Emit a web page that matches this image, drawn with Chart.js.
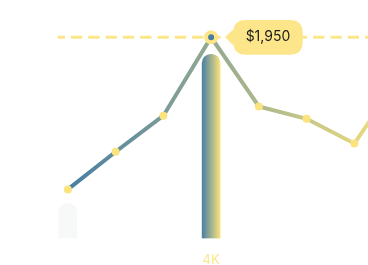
<!DOCTYPE html>
<html>
<head>
<meta charset="utf-8">
<script src="https://cdn.jsdelivr.net/npm/chart.js@4"></script>
<style>
  html, body { margin: 0; padding: 0; background: #fff; overflow: hidden; width: 368px; height: 265px; }
  #salesChart { position: absolute; left: 0; top: 0; }
</style>
</head>
<body>
<canvas id="salesChart" width="430" height="282"></canvas>
<script>
// data
var categories = ['1K', '2K', '3K', '4K', '5K', '6K', '7K', '8K'];
var salesValues = [475, 840, 1190, 1950, 1280, 1160, 920, 1600];
var barValues = [340, null, null, 1785, null, null, null, null];
var highlightIndex = 3;

var BLUE = '#4a80a4';
var YELLOW = '#f8e27c';
var PALE = '#fde68a';

var peakLine = {
  id: 'peakLine',
  beforeDatasetsDraw: function (chart) {
    var ctx = chart.ctx;
    var x = chart.scales.x, y = chart.scales.y;
    var yPos = y.getPixelForValue(salesValues[highlightIndex]);
    ctx.save();
    ctx.strokeStyle = PALE;
    ctx.lineWidth = 3;
    ctx.setLineDash([11.3, 6]);
    ctx.lineDashOffset = 4;
    ctx.beginPath();
    ctx.moveTo(x.getPixelForValue(0) - 10.2, yPos);
    ctx.lineTo(chart.chartArea.right, yPos);
    ctx.stroke();
    ctx.restore();
  }
};

function lineGradient(context) {
  var chart = context.chart;
  if (!chart.chartArea) return BLUE;
  var g = chart.ctx.createLinearGradient(60, 0, 400, 0);
  g.addColorStop(0, '#437ca3');
  g.addColorStop(1, YELLOW);
  return g;
}

function barColor(context) {
  var chart = context.chart;
  if (!chart.chartArea) return BLUE;
  if (context.dataIndex !== highlightIndex) return '#f7f9f9';
  var cx = chart.scales.x.getPixelForValue(context.dataIndex);
  var g = chart.ctx.createLinearGradient(cx - 9, 0, cx + 9, 0);
  g.addColorStop(0, BLUE);
  g.addColorStop(1, YELLOW);
  return g;
}

var pointFill = salesValues.map(function (v, i) { return i === highlightIndex ? '#4a7b9c' : '#fbe37f'; });
var pointBorder = salesValues.map(function (v, i) { return i === highlightIndex ? PALE : '#fbe37f'; });
var pointRadius = salesValues.map(function (v, i) { return i === highlightIndex ? 5 : 4; });
var pointBorderW = salesValues.map(function (v, i) { return i === highlightIndex ? 4 : 0; });

var chart = new Chart(document.getElementById('salesChart'), {
  data: {
    labels: categories,
    datasets: [
      {
        type: 'bar',
        data: barValues,
        order: 1,
        backgroundColor: barColor,
        barThickness: 18,
        borderRadius: 9,
        borderSkipped: 'bottom'
      },
      {
        type: 'line',
        data: salesValues,
        order: 0,
        borderColor: lineGradient,
        borderWidth: 4,
        tension: 0,
        pointBackgroundColor: pointFill,
        pointBorderColor: pointBorder,
        pointRadius: pointRadius,
        pointBorderWidth: pointBorderW
      }
    ]
  },
  options: {
    responsive: false,
    devicePixelRatio: 1,
    animation: false,
    events: [],
    layout: { padding: { left: 44, right: 0, top: 11.5, bottom: 0 } },
    scales: {
      x: {
        grid: { display: false, drawTicks: false },
        border: { display: false },
        ticks: {
          padding: 14,
          font: { family: 'Inter', size: 13 },
          color: function (c) { return c.index === highlightIndex ? PALE : 'rgba(0,0,0,0)'; }
        }
      },
      y: { display: false, min: 0, max: 2200 }
    },
    plugins: {
      legend: { display: false },
      tooltip: {
        enabled: true,
        xAlign: 'left',
        yAlign: 'center',
        backgroundColor: PALE,
        bodyColor: '#1c1c1c',
        bodyFont: { family: 'Inter', size: 14, weight: '400' },
        padding: { left: 12.5, right: 12.5, top: 9, bottom: 9 },
        cornerRadius: 13,
        caretSize: 8,
        caretPadding: 14,
        displayColors: false,
        filter: function (item) { return item.datasetIndex === 1; },
        callbacks: {
          title: function () { return ''; },
          label: function (item) { return '$' + item.raw.toLocaleString('en-US'); }
        }
      }
    }
  },
  plugins: [peakLine]
});

chart.tooltip.setActiveElements([{ datasetIndex: 1, index: highlightIndex }], { x: 0, y: 0 });
chart.update();
</script>
</body>
</html>
